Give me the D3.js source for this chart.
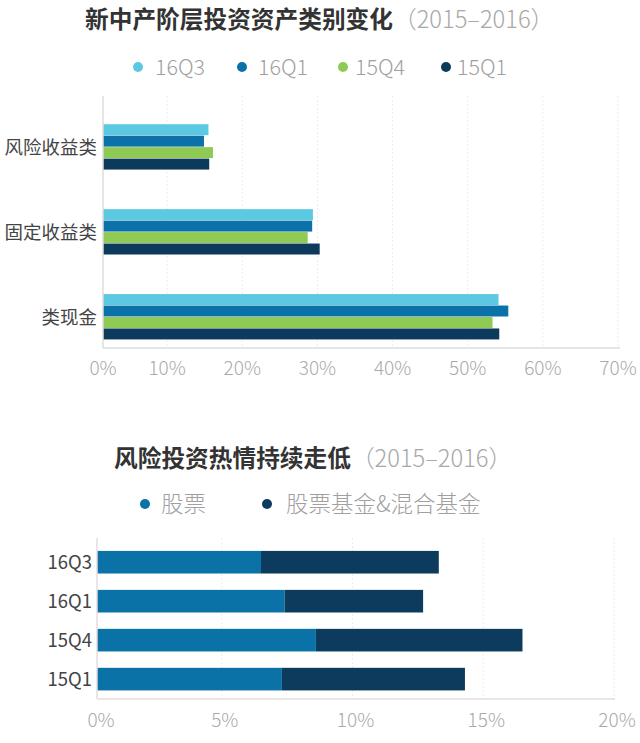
<!DOCTYPE html>
<html><head><meta charset="utf-8">
<script src="https://cdn.jsdelivr.net/npm/d3@7"></script>
<style>
html,body{margin:0;padding:0;background:#fff;}
svg{display:block;}
text{font-family:"Noto Sans CJK SC","Noto Sans",sans-serif;}
</style></head>
<body>
<svg id="chart" width="640" height="743"></svg>
<script>
// ---------- Data: chart 1 ----------
const title1 = "新中产阶层投资资产类别变化";
const subtitle1 = "（2015–2016）";
const categories1 = ["风险收益类", "固定收益类", "类现金"];
const series1 = ["16Q3", "16Q1", "15Q4", "15Q1"];
const values16Q3 = [15.5, 29.4, 54.1];
const values16Q1 = [14.9, 29.3, 55.4];
const values15Q4 = [16.1, 28.7, 53.3];
const values15Q1 = [15.6, 30.3, 54.2];
const ticks1 = [0, 10, 20, 30, 40, 50, 60, 70];

// ---------- Data: chart 2 ----------
const title2 = "风险投资热情持续走低";
const subtitle2 = "（2015–2016）";
const categories2 = ["16Q3", "16Q1", "15Q4", "15Q1"];
const series2 = ["股票", "股票基金&混合基金"];
const stockValues = [6.5, 7.4, 8.6, 7.3];
const fundValues = [6.8, 5.3, 7.9, 7.0];
const ticks2 = [0, 5, 10, 15, 20];

const colors1 = ["#5cc9e2", "#0a72a9", "#8fca55", "#0c3a5c"];
const colors2 = ["#0b72a8", "#0c3b5d"];

const svg = d3.select("#chart");

// ================= Chart 1 =================
const seriesValues1 = [values16Q3, values16Q1, values15Q4, values15Q1];
const x1 = d3.scaleLinear().domain([0, 70]).range([92, 618]);
const base1 = 103;
const y1 = d3.scaleBand().domain(categories1).range([100, 348])
  .paddingInner(0.46).paddingOuter(0.19).align(0.75);
const ySub1 = d3.scaleBand().domain(series1).range([0, y1.bandwidth()]).padding(0);

// title
const t1 = svg.append("text").attr("x", 85).attr("y", 28)
  .attr("font-size", 23.7).attr("fill", "#333");
t1.append("tspan").attr("font-weight", 700).text(title1);
t1.append("tspan").attr("fill", "#a8a8a8").attr("font-weight", 300).text(subtitle1);

// legend
const leg1X = [138, 242, 343, 446];
const leg1TextX = [155, 258, 355, 457];
series1.forEach((s, i) => {
  svg.append("circle").attr("cx", leg1X[i]).attr("cy", 67).attr("r", 5).attr("fill", colors1[i]);
  svg.append("text").attr("x", leg1TextX[i]).attr("y", 67).attr("dy", "0.36em")
    .attr("font-size", 21.5).attr("font-weight", 300).attr("fill", "#a0a0a0").text(s);
});

// grid
const g1 = svg.append("g");
g1.selectAll("line.grid").data(ticks1.filter(d => d > 0)).join("line")
  .attr("x1", d => x1(d)).attr("x2", d => x1(d)).attr("y1", 96).attr("y2", 348)
  .attr("stroke", "#ececec").attr("stroke-width", 1).attr("stroke-dasharray", "2,2");

// bars
series1.forEach((s, si) => {
  g1.selectAll("rect.s" + si).data(categories1).join("rect")
    .attr("x", base1)
    .attr("y", c => y1(c) + ySub1(s))
    .attr("width", (c, ci) => x1(seriesValues1[si][ci]) - base1)
    .attr("height", ySub1.bandwidth() - 0.5)
    .attr("fill", colors1[si]);
});

// axes lines
g1.append("line").attr("x1", base1).attr("x2", base1).attr("y1", 96).attr("y2", 348)
  .attr("stroke", "#dcdcdc").attr("stroke-width", 1.5);
g1.append("line").attr("x1", base1).attr("x2", 620).attr("y1", 348).attr("y2", 348)
  .attr("stroke", "#dcdcdc").attr("stroke-width", 1.5);

// category labels
g1.selectAll("text.cat").data(categories1).join("text")
  .attr("x", 97).attr("y", c => y1(c) + y1.bandwidth() / 2).attr("dy", "0.36em")
  .attr("text-anchor", "end").attr("font-size", 18.5).attr("fill", "#444").text(c => c);

// tick labels
g1.selectAll("text.tick").data(ticks1).join("text")
  .attr("x", d => d === 0 ? base1 : x1(d)).attr("y", 368).attr("dy", "0.36em")
  .attr("text-anchor", "middle").attr("font-size", 19).attr("font-weight", 300)
  .attr("fill", "#aaa").text(d => d + "%");

// ================= Chart 2 =================
const x2 = d3.scaleLinear().domain([0, 20]).range([91, 614]);
const base2 = 97;
const y2 = d3.scaleBand().domain(categories2).range([540, 699])
  .paddingInner(0.42).paddingOuter(0.25).align(0.56);

const t2 = svg.append("text").attr("x", 114).attr("y", 467)
  .attr("font-size", 23.7).attr("fill", "#333");
t2.append("tspan").attr("font-weight", 700).text(title2);
t2.append("tspan").attr("fill", "#a8a8a8").attr("font-weight", 300).text(subtitle2);

const leg2X = [145, 267];
const leg2TextX = [161, 286];
series2.forEach((s, i) => {
  svg.append("circle").attr("cx", leg2X[i]).attr("cy", 504).attr("r", 5).attr("fill", colors2[i]);
  svg.append("text").attr("x", leg2TextX[i]).attr("y", 504).attr("dy", "0.36em")
    .attr("font-size", 22.5).attr("font-weight", 300).attr("fill", "#a0a0a0").text(s);
});

const g2 = svg.append("g");
g2.selectAll("line.grid").data(ticks2.filter(d => d > 0)).join("line")
  .attr("x1", d => x2(d)).attr("x2", d => x2(d)).attr("y1", 538).attr("y2", 699)
  .attr("stroke", "#ececec").attr("stroke-width", 1).attr("stroke-dasharray", "2,2");

const stacked = categories2.map((c, i) => ({ c, s: stockValues[i], f: fundValues[i] }));
g2.selectAll("rect.stock").data(stacked).join("rect")
  .attr("x", base2).attr("y", d => y2(d.c))
  .attr("width", d => x2(d.s) - base2).attr("height", y2.bandwidth())
  .attr("fill", colors2[0]);
g2.selectAll("rect.fund").data(stacked).join("rect")
  .attr("x", d => x2(d.s)).attr("y", d => y2(d.c))
  .attr("width", d => x2(d.s + d.f) - x2(d.s)).attr("height", y2.bandwidth())
  .attr("fill", colors2[1]);

g2.append("line").attr("x1", base2).attr("x2", base2).attr("y1", 538).attr("y2", 699)
  .attr("stroke", "#e4dde2").attr("stroke-width", 1.5);
g2.append("line").attr("x1", base2).attr("x2", 615).attr("y1", 699).attr("y2", 699)
  .attr("stroke", "#e4dde2").attr("stroke-width", 1.5);

g2.selectAll("text.cat").data(categories2).join("text")
  .attr("x", 92).attr("y", c => y2(c) + y2.bandwidth() / 2).attr("dy", "0.36em")
  .attr("text-anchor", "end").attr("font-size", 18.5).attr("fill", "#444").text(c => c);

g2.selectAll("text.tick").data(ticks2).join("text")
  .attr("x", d => d === 0 ? base2 + 4 : x2(d) + 3).attr("y", 720).attr("dy", "0.36em")
  .attr("text-anchor", "middle").attr("font-size", 19).attr("font-weight", 300)
  .attr("fill", "#aaa").text(d => d + "%");
</script>
</body></html>
